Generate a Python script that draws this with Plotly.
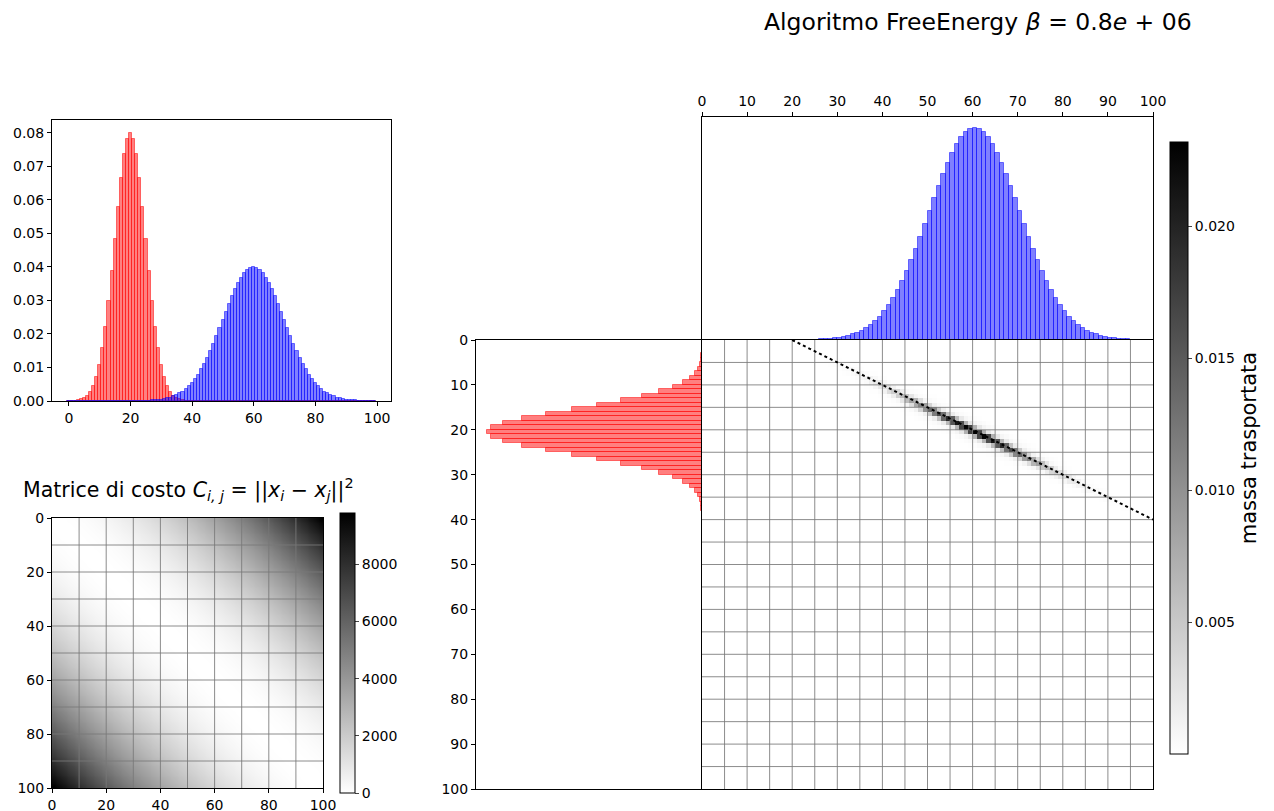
import numpy as np
import plotly.graph_objects as go

# ---------------- data ----------------
bins = list(range(100))

red_mass = [
    0.00003, 0.00006, 0.00012, 0.00025, 0.00048, 0.00089, 0.00158, 0.00272, 0.00448, 0.00709,
    0.01080, 0.01579, 0.02218, 0.02995, 0.03884, 0.04839, 0.05794, 0.06665, 0.07366, 0.07821,
    0.07979, 0.07821, 0.07366, 0.06665, 0.05794, 0.04839, 0.03884, 0.02995, 0.02218, 0.01579,
    0.01080, 0.00709, 0.00448, 0.00272, 0.00158, 0.00089, 0.00048, 0.00025, 0.00012, 0.00006,
    0.00003, 0.00001, 0, 0, 0, 0, 0, 0, 0, 0,
    0, 0, 0, 0, 0, 0, 0, 0, 0, 0,
    0, 0, 0, 0, 0, 0, 0, 0, 0, 0,
    0, 0, 0, 0, 0, 0, 0, 0, 0, 0,
    0, 0, 0, 0, 0, 0, 0, 0, 0, 0,
    0, 0, 0, 0, 0, 0, 0, 0, 0, 0,
]

blue_mass = [
    0, 0, 0, 0, 0, 0, 0, 0, 0, 0,
    0, 0, 0, 0, 0, 0, 0, 0, 0, 0,
    0.00001, 0.00002, 0.00003, 0.00004, 0.00006, 0.00009, 0.00012, 0.00017, 0.00024, 0.00033,
    0.00044, 0.00060, 0.00079, 0.00104, 0.00136, 0.00175, 0.00224, 0.00283, 0.00355, 0.00440,
    0.00540, 0.00656, 0.00789, 0.00940, 0.01109, 0.01295, 0.01497, 0.01714, 0.01942, 0.02179,
    0.02420, 0.02661, 0.02897, 0.03122, 0.03332, 0.03521, 0.03683, 0.03814, 0.03910, 0.03969,
    0.03989, 0.03969, 0.03910, 0.03814, 0.03683, 0.03521, 0.03332, 0.03122, 0.02897, 0.02661,
    0.02420, 0.02179, 0.01942, 0.01714, 0.01497, 0.01295, 0.01109, 0.00940, 0.00789, 0.00656,
    0.00540, 0.00440, 0.00355, 0.00283, 0.00224, 0.00175, 0.00136, 0.00104, 0.00079, 0.00060,
    0.00044, 0.00033, 0.00024, 0.00017, 0.00012, 0.00009, 0.00006, 0.00004, 0.00003, 0.00002,
]

hist_yticks = [0.00, 0.01, 0.02, 0.03, 0.04, 0.05, 0.06, 0.07, 0.08]
hist_xticks = [0, 20, 40, 60, 80, 100]
cost_ticks = [0, 20, 40, 60, 80, 100]
cost_grid = [10, 20, 30, 40, 50, 60, 70, 80, 90]
cost_cbar_ticks = [0, 2000, 4000, 6000, 8000]
main_ticks = [0, 10, 20, 30, 40, 50, 60, 70, 80, 90, 100]
main_grid = [5, 10, 15, 20, 25, 30, 35, 40, 45, 50, 55, 60, 65, 70, 75, 80, 85, 90, 95]
plan_cbar_ticks = [0.005, 0.010, 0.015, 0.020]
map_cols = [20, 100]   # dotted monotone-map line (columns)
map_rows = [0, 40]     # dotted monotone-map line (rows)
plan_peak = 0.0232     # top of the "massa trasportata" colour bar
haze_share = 0.2       # share of the mass in the faint halo around the band
haze_eps = 8.0

title_main = "Algoritmo FreeEnergy <i>β</i> = 0.8<i>e</i> + 06"
title_cost = ("Matrice di costo <i>C</i><sub><i>i, j</i></sub> = "
              "||<i>x</i><sub><i>i</i></sub> − <i>x</i><sub><i>j</i></sub>||<sup>2</sup>")
cbar_label = "massa trasportata"

# ---------------- derived matrices ----------------
idx = np.array(bins, dtype=float)
cost = (idx[:, None] - idx[None, :]) ** 2

a = np.maximum(np.array(red_mass), 1e-12); a = a / a.sum()
b = np.maximum(np.array(blue_mass), 1e-12); b = b / b.sum()


def lse(m, axis):
    mx = m.max(axis=axis, keepdims=True)
    return (mx + np.log(np.exp(m - mx).sum(axis=axis, keepdims=True))).squeeze(axis)


def sinkhorn(eps, n_iter=500):
    M = -cost / eps
    f = np.zeros(100); g = np.zeros(100)
    la, lb = np.log(a), np.log(b)
    for _ in range(n_iter):
        f = la - lse(M + g[None, :], 1)
        g = lb - lse(M + f[:, None], 0)
    return np.exp(M + f[:, None] + g[None, :])


haze = sinkhorn(haze_eps)


def mix(eps, n_iter=500):
    return (1 - haze_share) * sinkhorn(eps, n_iter) + haze_share * haze


lo, hi = np.log(0.5), np.log(50.0)
for _ in range(20):
    mid = 0.5 * (lo + hi)
    if mix(np.exp(mid)).max() > plan_peak:
        lo = mid
    else:
        hi = mid
plan = mix(np.exp(0.5 * (lo + hi)), 800)

# ---------------- layout helpers ----------------
W, H = 1274, 811
FONT = "DejaVu Sans"


def dx(l, r):
    return [l / W, r / W]


def dy(t, bt):
    return [1 - bt / H, 1 - t / H]


def grid_xy(vals, lo_, hi_):
    xs, ys = [], []
    for v in vals:
        xs += [v, v, None]; ys += [lo_, hi_, None]
        xs += [lo_, hi_, None]; ys += [v, v, None]
    return xs, ys


RED_F = "rgba(255,0,0,0.5)"
BLUE_F = "rgba(0,0,255,0.5)"
GRID_C = "rgba(120,120,120,0.85)"

fig = go.Figure()

# 1. top-left histogram
fig.add_trace(go.Bar(x=bins, y=red_mass, width=1, marker=dict(color=RED_F, line=dict(color=RED_F, width=1)),
                     xaxis="x", yaxis="y", showlegend=False))
fig.add_trace(go.Bar(x=bins, y=blue_mass, width=1, marker=dict(color=BLUE_F, line=dict(color=BLUE_F, width=1)),
                     xaxis="x", yaxis="y", showlegend=False))

# 2. cost matrix
fig.add_trace(go.Heatmap(z=cost, x0=0.5, dx=1, y0=0.5, dy=1, xaxis="x2", yaxis="y2",
                         colorscale=[[0, "white"], [1, "black"]], zmin=0, zmax=float(cost.max()),
                         zsmooth="best",
                         colorbar=dict(x=340 / W, xanchor="left", y=1 - 513 / H, yanchor="top",
                                       len=(793 - 513) / H, lenmode="fraction", thickness=15,
                                       xpad=0, ypad=0, outlinewidth=1, outlinecolor="black",
                                       tickvals=cost_cbar_ticks, ticks="outside", ticklen=4,
                                       tickfont=dict(family=FONT, size=14, color="black"))))
gx, gy = grid_xy(cost_grid, 0, 100)
fig.add_trace(go.Scatter(x=gx, y=gy, mode="lines", line=dict(color=GRID_C, width=1),
                         xaxis="x2", yaxis="y2", showlegend=False, hoverinfo="skip"))

# 3. top marginal (blue)
fig.add_trace(go.Bar(x=[k + 0.5 for k in bins], y=blue_mass, width=1,
                     marker=dict(color=BLUE_F, line=dict(color=BLUE_F, width=1)),
                     xaxis="x3", yaxis="y3", showlegend=False))

# 4. left marginal (red)
fig.add_trace(go.Bar(y=[k + 0.5 for k in bins], x=red_mass, width=1, orientation="h",
                     marker=dict(color=RED_F, line=dict(color=RED_F, width=1)),
                     xaxis="x4", yaxis="y4", showlegend=False))

# 5. transport plan
fig.add_trace(go.Heatmap(z=plan, x0=0.5, dx=1, y0=0.5, dy=1, xaxis="x5", yaxis="y5",
                         colorscale=[[0, "white"], [1, "black"]],
                         zmin=float(plan.min()), zmax=float(plan.max()),
                         colorbar=dict(x=1170 / W, xanchor="left", y=1 - 142 / H, yanchor="top",
                                       len=(754 - 142) / H, lenmode="fraction", thickness=18,
                                       xpad=0, ypad=0, outlinewidth=1, outlinecolor="black",
                                       tickvals=plan_cbar_ticks, tickformat=".3f",
                                       ticks="outside", ticklen=4,
                                       tickfont=dict(family=FONT, size=14, color="black"),
                                       title=dict(text=cbar_label, side="right",
                                                  font=dict(family=FONT, size=21, color="black")))))
gx, gy = grid_xy(main_grid, 0, 100)
fig.add_trace(go.Scatter(x=gx, y=gy, mode="lines", line=dict(color=GRID_C, width=1),
                         xaxis="x5", yaxis="y5", showlegend=False, hoverinfo="skip"))
fig.add_trace(go.Scatter(x=map_cols, y=map_rows, mode="lines", line=dict(color="black", width=2, dash="dot"),
                         xaxis="x5", yaxis="y5", showlegend=False, hoverinfo="skip"))

axis_common = dict(showline=True, linecolor="black", linewidth=1, mirror=True, showgrid=False,
                   zeroline=False, tickfont=dict(family=FONT, size=14, color="black"),
                   ticks="outside", ticklen=4, tickcolor="black")
no_ticks = dict(showline=True, linecolor="black", linewidth=1, mirror=True, showgrid=False,
                zeroline=False, showticklabels=False, ticks="")

fig.update_layout(
    width=W, height=H, margin=dict(l=0, r=0, t=0, b=0, autoexpand=False),
    paper_bgcolor="white", plot_bgcolor="white",
    barmode="overlay", bargap=0,
    font=dict(family=FONT, size=14, color="black"),
    xaxis=dict(domain=dx(52, 391), range=[-5.5, 104.5], tickvals=hist_xticks, anchor="y", **axis_common),
    yaxis=dict(domain=dy(120, 401), range=[0, 0.0838], tickvals=hist_yticks, tickformat=".2f",
               anchor="x", **axis_common),
    xaxis2=dict(domain=dx(52, 323), range=[0, 100], tickvals=cost_ticks, anchor="y2", **axis_common),
    yaxis2=dict(domain=dy(518, 788), range=[100, 0], tickvals=cost_ticks, anchor="x2", **axis_common),
    xaxis3=dict(domain=dx(702, 1153), range=[0, 100], tickvals=main_ticks, side="top", anchor="y3",
                **axis_common),
    yaxis3=dict(domain=dy(117, 340), range=[0, 0.0419], anchor="x3", **no_ticks),
    xaxis4=dict(domain=dx(476, 702), range=[0.0838, 0], anchor="y4", **no_ticks),
    yaxis4=dict(domain=dy(340, 789), range=[100, 0], tickvals=main_ticks, anchor="x4", **axis_common),
    xaxis5=dict(domain=dx(702, 1153), range=[0, 100], anchor="y5", **no_ticks),
    yaxis5=dict(domain=dy(340, 789), range=[100, 0], anchor="x5", **no_ticks),
    annotations=[
        dict(text=title_main, x=978 / W, y=1 - 22 / H, xref="paper", yref="paper", showarrow=False,
             xanchor="center", yanchor="middle", font=dict(family=FONT, size=23.5, color="black")),
        dict(text=title_cost, x=188 / W, y=1 - 489 / H, xref="paper", yref="paper", showarrow=False,
             xanchor="center", yanchor="middle", font=dict(family=FONT, size=20.5, color="black")),
    ],
)

fig.write_html("out.html")
